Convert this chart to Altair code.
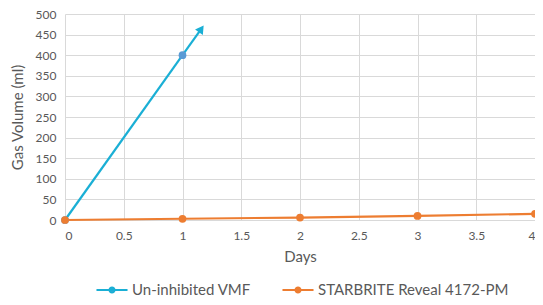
import altair as alt
import pandas as pd

series_names = ["Un-inhibited VMF", "STARBRITE Reveal 4172-PM"]
vmf_days = [0, 1]
vmf_gas = [0, 400]
star_days = [0, 1, 2, 3, 4]
star_gas = [0, 3, 6, 10, 15]
arrow_days = [1, 1.16]
arrow_gas = [400, 464]

rows = []
for d, g in zip(vmf_days, vmf_gas):
    rows.append({"Days": d, "Gas": g, "Series": series_names[0]})
for d, g in zip(star_days, star_gas):
    rows.append({"Days": d, "Gas": g, "Series": series_names[1]})
df = pd.DataFrame(rows)
arrow_df = pd.DataFrame({"Days": arrow_days, "Gas": arrow_gas})
tip_df = arrow_df.tail(1)

FONT = "Lato"
GREY = "#595959"

x = alt.X("Days:Q", title="Days", scale=alt.Scale(domain=[0, 4], nice=False),
          axis=alt.Axis(values=[0, 0.5, 1, 1.5, 2, 2.5, 3, 3.5, 4], format="~g",
                        titlePadding=8, labelPadding=10))
y = alt.Y("Gas:Q", title="Gas Volume (ml)", scale=alt.Scale(domain=[0, 500], nice=False),
          axis=alt.Axis(values=list(range(0, 501, 50)), labelPadding=9, titlePadding=10))

legend_path = "M-2.07,0H2.07M-0.33,0a0.33,0.33 0 1,0 0.66,0a0.33,0.33 0 1,0 -0.66,0"

stroke_scale = alt.Scale(domain=series_names, range=["#1AAFD5", "#ED7D31"])
fill_scale = alt.Scale(domain=series_names, range=["#5B9BD5", "#ED7D31"])
leg = alt.Legend(title=None, orient="none", direction="horizontal",
                 legendX=38, legendY=267, padding=0,
                 symbolType=legend_path, symbolSize=225, symbolStrokeWidth=2.2,
                 labelFontSize=15, labelColor=GREY, labelFont=FONT, labelLimit=0,
                 labelOffset=11, columnPadding=27, symbolOpacity=1)

lines = alt.Chart(df).mark_line(strokeWidth=2.2).encode(
    x=x, y=y,
    stroke=alt.Stroke("Series:N", scale=stroke_scale, legend=leg, sort=series_names),
    detail="Series:N",
)
points = alt.Chart(df).mark_point(filled=True, size=60, opacity=1).encode(
    x=x, y=y,
    fill=alt.Fill("Series:N", scale=fill_scale, legend=leg, sort=series_names),
)
arrow_line = alt.Chart(arrow_df).mark_line(strokeWidth=2.2, color="#1AAFD5").encode(x=x, y=y)
arrow_tip = alt.Chart(tip_df).mark_point(shape="triangle-up", filled=True, size=90,
                                        angle=35, color="#1AAFD5", opacity=1).encode(x=x, y=y)

chart = alt.layer(lines, arrow_line, arrow_tip, points).properties(
    width=470, height=206,
    autosize=alt.AutoSizeParams(type="none"),
    padding={"left": 57, "top": 6, "right": 0, "bottom": 77},
).configure_view(stroke=None).configure_axis(
    grid=True, gridColor="#D9D9D9", gridWidth=1, domain=False, ticks=False,
    labelFont=FONT, labelFontSize=12, labelColor=GREY,
    titleFont=FONT, titleFontSize=15, titleColor=GREY, titleFontWeight="normal",
).configure_legend(labelFont=FONT)

chart.save("out.html", embed_options={"renderer": "svg", "actions": False})
